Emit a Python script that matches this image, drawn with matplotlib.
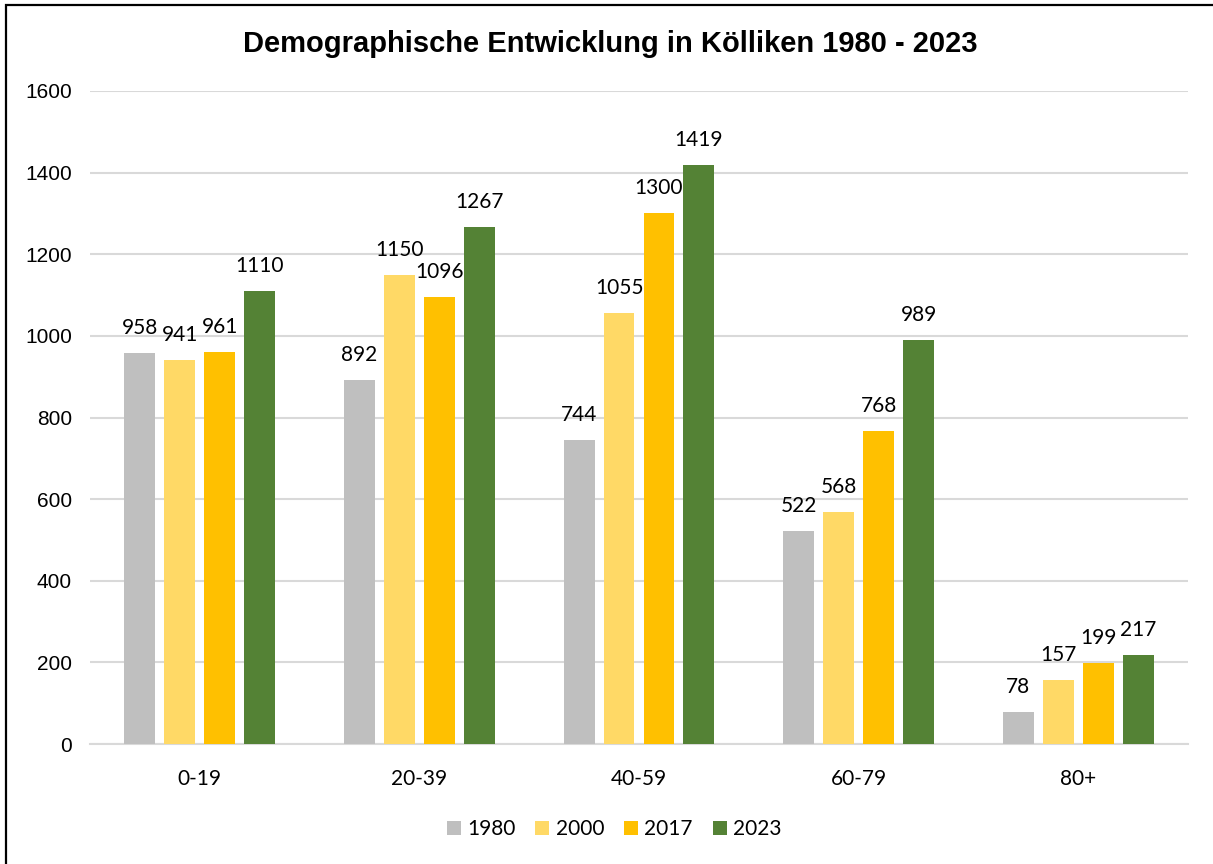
import numpy as np
import matplotlib.pyplot as plt
from matplotlib.patches import Rectangle

# Altersgruppen und Einwohnerzahlen
categories = ['0-19', '20-39', '40-59', '60-79', '80+']
years = ['1980', '2000', '2017', '2023']
v1980 = [958, 892, 744, 522, 78]
v2000 = [941, 1150, 1055, 568, 157]
v2017 = [961, 1096, 1300, 768, 199]
v2023 = [1110, 1267, 1419, 989, 217]
series = [v1980, v2000, v2017, v2023]
colors = ['#BFBFBF', '#FFD966', '#FFC000', '#548235']

W, H = 1213, 864
fig = plt.figure(figsize=(W / 100, H / 100), dpi=100)
ax = fig.add_axes([90 / W, 1 - 744 / H, (1188 - 90) / W, (744 - 91) / H])

x = np.arange(len(categories))
step = 0.182
width = 0.141
for i, (vals, col, yr) in enumerate(zip(series, colors, years)):
    pos = x + (i - 1.5) * step
    bars = ax.bar(pos, vals, width, color=col, label=yr, zorder=3)
    for b, v in zip(bars, vals):
        ax.annotate(str(v), (b.get_x() + b.get_width() / 2, v),
                    xytext=(0, 18), textcoords='offset points',
                    ha='center', va='center', fontsize=15, family='Lato',
                    color='#000000')

ax.set_xlim(-0.5, len(categories) - 0.5)
ax.set_ylim(0, 1600)
ax.set_yticks(range(0, 1601, 200))
ax.set_xticks(x)
ax.set_xticklabels(categories, family='Lato', fontsize=15)
for lab in ax.get_yticklabels():
    lab.set_family('Liberation Sans')
    lab.set_fontsize(15)
ax.tick_params(length=0)
ax.tick_params(axis='x', pad=18)
ax.tick_params(axis='y', pad=13)
ax.grid(axis='y', color='#D9D9D9', linewidth=1.5, zorder=0)
for s in ['top', 'right', 'left']:
    ax.spines[s].set_visible(False)
ax.spines['bottom'].set_color('#D9D9D9')
ax.spines['bottom'].set_linewidth(1.5)

fig.text(610 / W, 1 - 44 / H, 'Demographische Entwicklung in Kölliken 1980 - 2023',
         ha='center', va='center', fontsize=21, fontweight='bold',
         family='Liberation Sans')

leg = fig.legend(loc='center', bbox_to_anchor=(614 / W, 1 - 829 / H), ncol=4,
                 frameon=False, prop={'family': 'Lato', 'size': 15},
                 handlelength=0.68, handleheight=0.68, handletextpad=0.3,
                 columnspacing=0.95)

# Rahmen um das Diagramm
fig.patches.append(Rectangle((6 / W, -0.1), 1.2, 1 - 5 / H + 0.1,
                             transform=fig.transFigure, fill=False,
                             edgecolor='black', linewidth=1.6))

fig.savefig('out.png', dpi=100)
